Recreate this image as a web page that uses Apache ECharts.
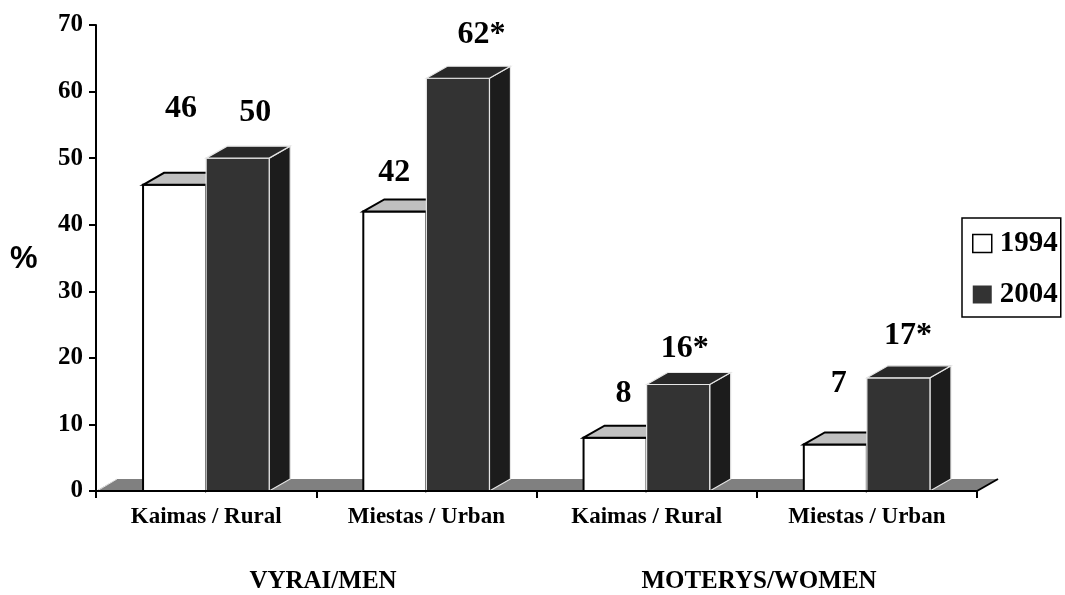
<!DOCTYPE html>
<html>
<head>
<meta charset="utf-8">
<script src="https://cdn.jsdelivr.net/npm/echarts@6/dist/echarts.min.js"></script>
<style>
html,body{margin:0;padding:0;background:#fff;}
#chart{width:1065px;height:595px;}
</style>
</head>
<body>
<div id="chart"></div>
<script>
// ---- data ----
const categories = ['Kaimas / Rural', 'Miestas / Urban', 'Kaimas / Rural', 'Miestas / Urban'];
const groups = ['VYRAI/MEN', 'MOTERYS/WOMEN'];
const seriesNames = ['1994', '2004'];
const values1994 = [46, 42, 8, 7];
const values2004 = [50, 62, 16, 17];
const signif1994 = [false, false, false, false];
const signif2004 = [false, true, true, true];
const yTicks = { min: 0, max: 70, interval: 10 };

// ---- label placement nudges (px, relative to bar top) ----
const labelNudge = [
  [[-4, -76], [-11, -39], [-2, -44], [-7, -61]],
  [[7, -45], [13, -44], [-4, -36], [-1, -42]]
];

const SERIF = "'Liberation Serif','Times New Roman',serif";
const D = 21, H = 12; // 3D depth

function makeBarRender(which) {
  return function (params, api) {
    const idx = api.value(0), val = api.value(1);
    const base = api.coord([idx, 0]);
    const top = api.coord([idx, val]);
    const band = api.size([1, 0])[0];
    const w = band * 63 / 220;
    const cx = base[0];
    const x0 = which === 0 ? cx - w : cx;
    const x1 = x0 + w;
    const yb = base[1], yt = top[1];
    const light = which === 0;
    const stroke = light ? '#000' : '#e6e6e6';
    const lw = light ? 2 : 1.2;
    const sig = (which === 0 ? signif1994 : signif2004)[params.dataIndex];
    const nudge = labelNudge[which][params.dataIndex];
    return {
      type: 'group',
      children: [
        { type: 'polygon', shape: { points: [[x1, yt], [x1 + D, yt - H], [x1 + D, yb - H], [x1, yb]] },
          style: { fill: light ? '#a0a0a0' : '#1c1c1c', stroke: stroke, lineWidth: lw } },
        { type: 'rect', shape: { x: x0, y: yt, width: w, height: yb - yt },
          style: { fill: light ? '#ffffff' : '#333333', stroke: stroke, lineWidth: lw } },
        { type: 'polygon', shape: { points: [[x0, yt], [x0 + D, yt - H], [x1 + D, yt - H], [x1, yt]] },
          style: { fill: light ? '#c0c0c0' : '#282828', stroke: stroke, lineWidth: lw } },
        { type: 'text', x: (x0 + x1) / 2 + D / 2 + nudge[0], y: yt + nudge[1],
          style: { text: String(val) + (sig ? '*' : ''), fill: '#000', fontSize: 32, fontWeight: 'bold',
                   fontFamily: SERIF, align: 'center', verticalAlign: 'middle' } }
      ]
    };
  };
}

function floorRender(params, api) {
  const cs = params.coordSys;
  const yb = cs.y + cs.height, xl = cs.x, xr = cs.x + cs.width;
  return {
    type: 'group',
    children: [
      { type: 'polygon', shape: { points: [[xl, yb], [xl + D, yb - H], [xr + D, yb - H], [xr, yb]] },
        style: { fill: '#808080', stroke: null } },
      { type: 'line', shape: { x1: xl + 1, y1: yb, x2: xl + D, y2: yb - H }, style: { stroke: '#e0e0e0', lineWidth: 1 } },
      { type: 'line', shape: { x1: xr, y1: yb, x2: xr + D, y2: yb - H }, style: { stroke: '#000', lineWidth: 2 } }
    ]
  };
}

const chart = echarts.init(document.getElementById('chart'), null, { renderer: 'canvas' });
chart.setOption({
  backgroundColor: '#ffffff',
  animation: false,
  grid: { left: 96, right: 88, top: 25, bottom: 104, containLabel: false },
  legend: {
    orient: 'vertical', left: 962, top: 218, selectedMode: false,
    padding: [11, 3, 8, 10], itemGap: 22, itemWidth: 19, itemHeight: 18,
    borderColor: '#000', borderWidth: 1.5, backgroundColor: '#fff',
    textStyle: { fontSize: 29, fontWeight: 'bold', fontFamily: SERIF, color: '#000', padding: [0, 0, 0, 3] },
    data: [
      { name: seriesNames[0], icon: 'rect', itemStyle: { color: '#fff', borderColor: '#000', borderWidth: 1.5 } },
      { name: seriesNames[1], icon: 'rect', itemStyle: { color: '#333', borderWidth: 0 } }
    ]
  },
  xAxis: {
    type: 'category', data: categories, z: 10,
    axisLine: { show: true, lineStyle: { color: '#000', width: 2 } },
    axisTick: { show: true, length: 7, lineStyle: { color: '#000', width: 2 } },
    axisLabel: { fontSize: 23, fontWeight: 'bold', fontFamily: SERIF, color: '#000', margin: 15 },
    splitLine: { show: false }
  },
  yAxis: {
    type: 'value', min: yTicks.min, max: yTicks.max, interval: yTicks.interval,
    axisLine: { show: true, lineStyle: { color: '#000', width: 2 } },
    axisTick: { show: true, length: 7, lineStyle: { color: '#000', width: 2 } },
    axisLabel: { fontSize: 25, fontWeight: 'bold', fontFamily: SERIF, color: '#000', margin: 13 },
    splitLine: { show: false }
  },
  graphic: [
    { type: 'text', left: 10, top: 244, style: { text: '%', fontSize: 31, fontWeight: 'bold', fontFamily: "'Liberation Sans',Arial,sans-serif", fill: '#000' } },
    { type: 'text', x: 323, y: 582, style: { text: groups[0], fontSize: 25, fontWeight: 'bold', fontFamily: SERIF, fill: '#000', align: 'center', verticalAlign: 'middle' } },
    { type: 'text', x: 759, y: 582, style: { text: groups[1], fontSize: 25, fontWeight: 'bold', fontFamily: SERIF, fill: '#000', align: 'center', verticalAlign: 'middle' } }
  ],
  series: [
    { type: 'custom', name: 'floor', z: 1, renderItem: floorRender, data: [[0, 0]], silent: true },
    { type: 'custom', name: seriesNames[0], z: 2, renderItem: makeBarRender(0),
      itemStyle: { color: '#fff', borderColor: '#000' },
      encode: { x: 0, y: 1 }, data: values1994.map((v, i) => [i, v]) },
    { type: 'custom', name: seriesNames[1], z: 3, renderItem: makeBarRender(1),
      itemStyle: { color: '#333' },
      encode: { x: 0, y: 1 }, data: values2004.map((v, i) => [i, v]) }
  ]
});
</script>
</body>
</html>
